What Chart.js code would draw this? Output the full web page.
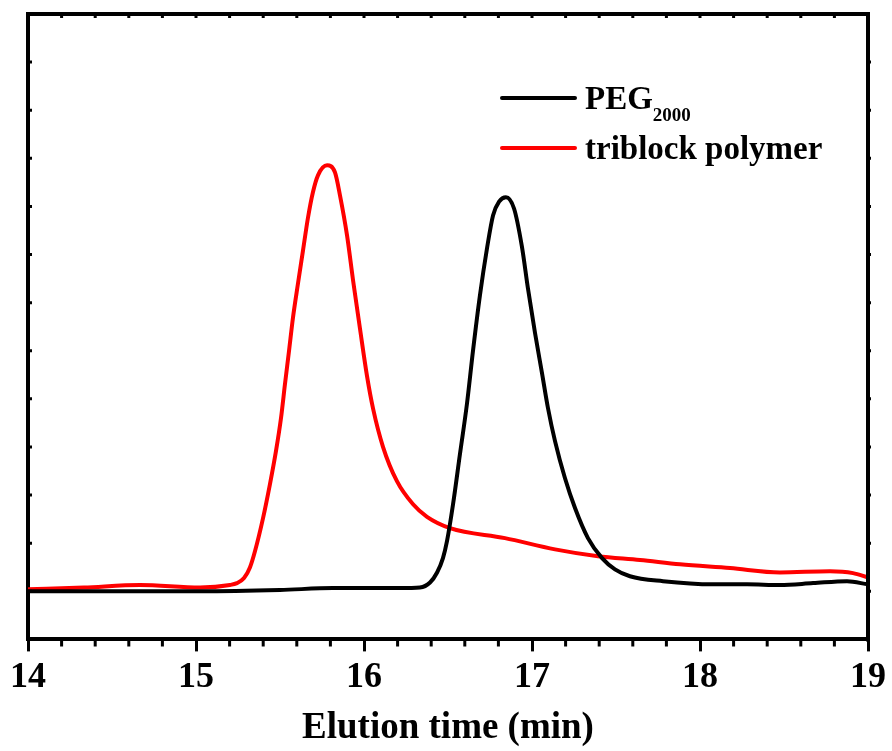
<!DOCTYPE html>
<html>
<head>
<meta charset="utf-8">
<script src="https://cdn.jsdelivr.net/npm/chart.js@4.4.0/dist/chart.umd.min.js"></script>
<style>
  body { margin: 0; background: #fff; }
  #wrap { width: 892px; height: 751px; }
</style>
</head>
<body>
<div id="wrap"><canvas id="chart"></canvas></div>
<script>
// elution time (min) / detector signal (a.u., 0-100)
const pegTime = [14.000, 15.024, 15.500, 15.815, 16.214, 16.333, 16.393, 16.435, 16.470, 16.494, 16.530, 16.571, 16.613,
  16.649, 16.690, 16.732, 16.768, 16.804, 16.845, 16.893, 16.940, 16.976, 17.018, 17.060, 17.095, 17.137, 17.196, 17.256,
  17.333, 17.417, 17.494, 17.583, 17.780, 18.077, 18.280, 18.476, 18.673, 18.875, 19.000];
const pegSignal = [7.7, 7.7, 7.9, 8.2, 8.2, 8.3, 9.1, 10.7, 13.0, 15.7, 21.6, 29.6, 37.7,
  46.2, 55.0, 62.5, 67.8, 70.0, 70.7, 68.9, 62.8, 56.1, 49.0, 42.5, 37.0, 31.7, 25.8, 21.0,
  16.2, 13.0, 11.2, 10.1, 9.3, 8.8, 8.8, 8.7, 9.0, 9.3, 8.8];

const triTime = [14.000, 14.333, 14.667, 15.024, 15.202, 15.244, 15.286, 15.321, 15.351, 15.399, 15.440, 15.476, 15.506,
  15.530, 15.554, 15.577, 15.607, 15.637, 15.667, 15.696, 15.726, 15.780, 15.827, 15.857, 15.899, 15.935, 15.976, 16.018,
  16.054, 16.113, 16.196, 16.292, 16.375, 16.512, 16.839, 17.137, 17.393, 17.643, 17.881, 18.179, 18.476, 18.774, 18.911,
  19.000];
const triSignal = [8.0, 8.3, 8.7, 8.3, 8.7, 9.0, 9.8, 11.5, 14.1, 19.4, 24.8, 30.1, 35.4,
  40.9, 46.2, 51.4, 56.9, 62.2, 67.5, 71.5, 74.2, 75.8, 74.7, 71.0, 64.6, 57.4, 49.7, 42.1,
  36.9, 30.8, 25.3, 21.6, 19.6, 17.8, 16.2, 14.4, 13.3, 12.7, 12.0, 11.4, 10.7, 10.9, 10.6,
  9.9];

const seriesLabels = ["PEG_2000", "triblock polymer"];
const seriesColors = ["#000000", "#ff0000"];
const xMin = 14, xMax = 19;

Chart.defaults.font.family = "'Liberation Serif', 'Times New Roman', serif";
Chart.defaults.font.weight = "bold";
Chart.defaults.color = "#000";

function toPoints(xs, ys) {
  return xs.map((x, i) => ({ x: x, y: ys[i] }));
}

// top/right frame plus the small ticks
const frame = {
  id: "frame",
  afterDraw(chart) {
    const ctx = chart.ctx;
    const { left, right, top, bottom } = chart.chartArea;
    const xs = chart.scales.x;
    const ys = chart.scales.y;
    ctx.save();
    ctx.strokeStyle = "#000";
    ctx.lineWidth = 4;
    ctx.beginPath();
    ctx.moveTo(left - 2, top);
    ctx.lineTo(right, top);
    ctx.lineTo(right, bottom + 2);
    ctx.stroke();

    ctx.lineWidth = 3;
    ctx.beginPath();
    for (let i = 0; i <= 25; i++) {
      const px = xs.getPixelForValue(xMin + i * 0.2);
      if (i % 5 !== 0) {
        ctx.moveTo(px, bottom);
        ctx.lineTo(px, bottom + 7);
      }
      ctx.moveTo(px, top);
      ctx.lineTo(px, top + 4);
    }
    for (let j = 1; j < 13; j++) {
      const py = ys.getPixelForValue(j * 100 / 13);
      ctx.moveTo(left, py);
      ctx.lineTo(left + 4, py);
      ctx.moveTo(right, py);
      ctx.lineTo(right + 3, py);
    }
    ctx.stroke();
    ctx.restore();
  }
};

// legend with subscript
const legendBox = {
  id: "legendBox",
  afterDraw(chart) {
    const ctx = chart.ctx;
    ctx.save();
    chart.data.datasets.forEach((ds, i) => {
      const y = 98 + i * 50;
      ctx.strokeStyle = ds.borderColor;
      ctx.lineWidth = 4;
      ctx.lineCap = "round";
      ctx.beginPath();
      ctx.moveTo(502, y);
      ctx.lineTo(575, y);
      ctx.stroke();

      const parts = seriesLabels[i].split("_");
      const base = y + 11;
      ctx.fillStyle = "#000";
      ctx.textBaseline = "alphabetic";
      ctx.font = "bold 33px 'Liberation Serif', serif";
      ctx.fillText(parts[0], 585, base);
      if (parts[1]) {
        const w = ctx.measureText(parts[0]).width;
        ctx.font = "bold 19px 'Liberation Serif', serif";
        ctx.fillText(parts[1], 585 + w, base + 12);
      }
    });
    ctx.restore();
  }
};

new Chart(document.getElementById("chart"), {
  type: "line",
  data: {
    datasets: [
      {
        label: seriesLabels[0],
        data: toPoints(pegTime, pegSignal),
        borderColor: seriesColors[0],
        borderWidth: 4,
        pointRadius: 0,
        cubicInterpolationMode: "monotone",
      },
      {
        label: seriesLabels[1],
        data: toPoints(triTime, triSignal),
        borderColor: seriesColors[1],
        borderWidth: 4,
        pointRadius: 0,
        cubicInterpolationMode: "monotone",
      },
    ],
  },
  options: {
    responsive: true,
    maintainAspectRatio: false,
    animation: false,
    layout: { padding: { left: 20, right: 24, top: 14, bottom: 0 } },
    plugins: {
      legend: { display: false },
      tooltip: { enabled: false },
    },
    scales: {
      x: {
        type: "linear",
        min: xMin,
        max: xMax,
        ticks: { stepSize: 1, padding: 5, font: { size: 36, weight: "bold" }, color: "#000" },
        grid: { drawOnChartArea: false, tickLength: 12, tickWidth: 3, tickColor: "#000" },
        border: { display: true, width: 4, color: "#000" },
        title: {
          display: true,
          text: "Elution time (min)",
          font: { size: 37, weight: "bold" },
          color: "#000",
          padding: { top: 2, bottom: 0 },
        },
      },
      y: {
        min: 0,
        max: 100,
        ticks: { display: false },
        grid: { display: false },
        border: { display: true, width: 4, color: "#000" },
      },
    },
  },
  plugins: [frame, legendBox],
});
</script>
</body>
</html>
